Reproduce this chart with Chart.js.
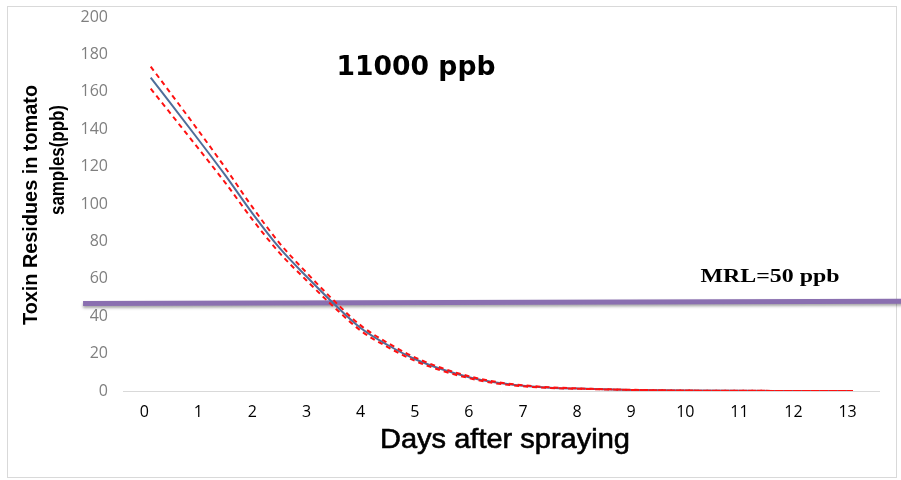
<!DOCTYPE html>
<html>
<head>
<meta charset="utf-8">
<script src="https://cdn.jsdelivr.net/npm/chart.js@4.4.1/dist/chart.umd.min.js"></script>
<style>
  html, body { margin: 0; background: #fff; }
  canvas { display: block; }
</style>
</head>
<body>
<canvas id="c" width="901" height="480"></canvas>
<script>
// residue curve (days after spraying -> ppb)
const DAYS    = [0.12, 1, 1.5, 2, 2.5, 3, 3.5, 4, 4.5, 5, 5.5, 6, 6.5, 7, 7.5, 8, 9, 10, 11, 12, 13.1];
const RESIDUE = [167.6, 134.5, 115.3, 95, 76.5, 61.2, 46.8, 33.7, 24.6, 17.1, 11.6, 7.4, 4.5, 2.8, 1.8, 1.3, 0.6, 0.25, 0.1, 0.05, 0];
const UPPER   = [173.5, 139.3, 119.3, 98.3, 79.1, 63.3, 48.5, 35.1, 25.7, 18.0, 12.3, 7.9, 4.9, 3.1, 2.0, 1.4, 0.65, 0.25, 0.1, 0.05, 0];
const LOWER   = [161.7, 129.7, 111.3, 91.7, 73.9, 59.1, 45.1, 32.3, 23.5, 16.2, 10.9, 6.9, 4.1, 2.5, 1.6, 1.2, 0.55, 0.25, 0.1, 0.05, 0];

// MRL reference line (drawn a little past the axes, as in the figure)
const MRL_DAYS   = [-1.13, 14.1];
const MRL_VALUES = [46.8, 48];

const X_TICKS = [0, 1, 2, 3, 4, 5, 6, 7, 8, 9, 10, 11, 12, 13];
const Y_TICKS = [0, 20, 40, 60, 80, 100, 120, 140, 160, 180, 200];

const pts = (xs, ys) => xs.map((x, i) => ({ x, y: ys[i] }));

function put(ctx, text, x, y, font, width, rotate, heavy) {
  ctx.save();
  ctx.font = font;
  ctx.fillStyle = '#000';
  ctx.strokeStyle = '#000';
  ctx.textAlign = 'center';
  ctx.textBaseline = 'alphabetic';
  const sx = width ? width / ctx.measureText(text).width : 1;
  ctx.translate(x, y);
  if (rotate) ctx.rotate(-Math.PI / 2);
  ctx.scale(sx, 1);
  ctx.fillText(text, 0, 0);
  if (heavy) { ctx.lineWidth = heavy; ctx.strokeText(text, 0, 0); }
  ctx.restore();
}

const decor = {
  id: 'decor',
  beforeDraw(chart) {
    const ctx = chart.ctx;
    ctx.save();
    ctx.fillStyle = '#fff';
    ctx.fillRect(0, 0, chart.width, chart.height);
    ctx.strokeStyle = '#d9d9d9';
    ctx.lineWidth = 1;
    ctx.strokeRect(7.5, 6.5, 889, 471);
    ctx.restore();
  },
  beforeDatasetDraw(chart, args) {
    if (args.index === 0) {
      chart.ctx.shadowColor = 'rgba(0,0,0,0.35)';
      chart.ctx.shadowBlur = 3;
      chart.ctx.shadowOffsetY = 2;
    }
  },
  afterDatasetDraw(chart, args) {
    if (args.index === 0) {
      chart.ctx.shadowColor = 'rgba(0,0,0,0)';
      chart.ctx.shadowBlur = 0;
      chart.ctx.shadowOffsetY = 0;
    }
  },
  afterDraw(chart) {
    const ctx = chart.ctx;
    put(ctx, '11000 ppb', 416, 75, 'bold 26px "DejaVu Sans"', 159);
    put(ctx, 'MRL=50 ppb', 770, 282, 'bold 18px "Liberation Serif"', 139);
    put(ctx, 'Days after spraying', 505, 448, '28px "Liberation Sans"', 250, false, 0.6);
    put(ctx, 'Toxin Residues in tomato', 37, 205, 'bold 21px "Liberation Sans"', 240, true);
    put(ctx, 'samples(ppb)', 64, 160, 'bold 21px "Liberation Sans"', 110, true);
  }
};

new Chart(document.getElementById('c'), {
  type: 'line',
  data: {
    datasets: [
      { data: pts(MRL_DAYS, MRL_VALUES), borderColor: '#8a6fb0', borderWidth: 5,
        pointRadius: 0, clip: false, order: 2 },
      { data: pts(DAYS, RESIDUE), borderColor: '#4e6e9a', borderWidth: 2,
        pointRadius: 0, cubicInterpolationMode: 'monotone', order: 1 },
      { data: pts(DAYS, UPPER), borderColor: '#ff1010', borderWidth: 2, borderDash: [5, 4],
        pointRadius: 0, cubicInterpolationMode: 'monotone', order: 0 },
      { data: pts(DAYS, LOWER), borderColor: '#ff1010', borderWidth: 2, borderDash: [5, 4],
        pointRadius: 0, cubicInterpolationMode: 'monotone', order: 0 },
    ]
  },
  options: {
    responsive: false,
    animation: false,
    layout: { padding: { left: 0, top: 17, right: 22, bottom: 0 } },
    plugins: { legend: { display: false }, tooltip: { enabled: false } },
    scales: {
      x: {
        type: 'linear', min: -0.392, max: 13.58,
        grid: { display: false, drawTicks: false },
        border: { display: true, color: '#d9d9d9', width: 1 },
        afterBuildTicks: (s) => { s.ticks = X_TICKS.map((v) => ({ value: v })); },
        afterFit: (s) => { s.height = 89; },
        ticks: { autoSkip: false, maxRotation: 0, padding: 12, color: '#000',
                 font: { family: '"Open Sans"', size: 16 } }
      },
      y: {
        min: 0, max: 200,
        grid: { display: false, drawTicks: false },
        border: { display: false },
        afterBuildTicks: (s) => { s.ticks = Y_TICKS.map((v) => ({ value: v })); },
        afterFit: (s) => { s.width = 123; s.paddingTop = 0; s.paddingBottom = 0; },
        ticks: { padding: 15, color: '#7f7f7f', font: { family: '"Open Sans"', size: 16 } }
      }
    }
  },
  plugins: [decor]
});
</script>
</body>
</html>
